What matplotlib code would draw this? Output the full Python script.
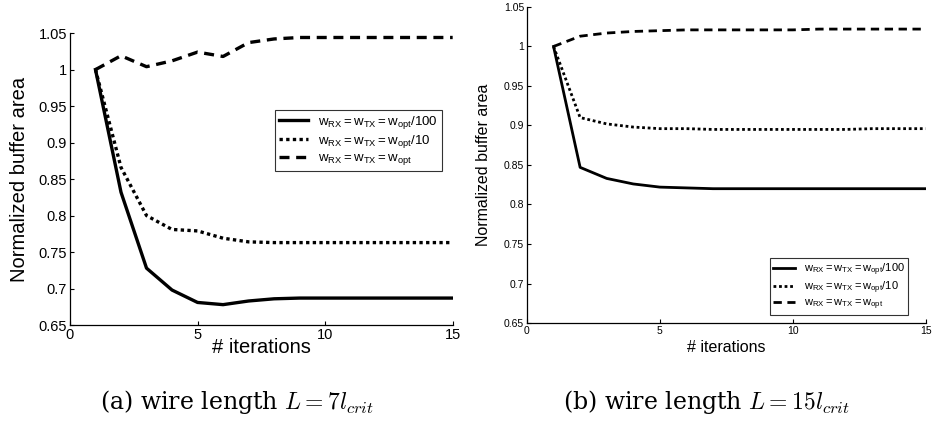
import matplotlib
matplotlib.use("Agg")
import matplotlib.pyplot as plt

plt.rcParams['font.family'] = ['Liberation Sans', 'DejaVu Sans']
plt.rcParams['mathtext.fontset'] = 'cm'

iterations = list(range(1, 16))

# Panel (a): L = 7 l_crit
a_div100 = [1.000, 0.832, 0.728, 0.698, 0.681, 0.678, 0.683, 0.686, 0.687, 0.687, 0.687, 0.687, 0.687, 0.687, 0.687]
a_div10 = [1.000, 0.866, 0.800, 0.781, 0.779, 0.769, 0.764, 0.763, 0.763, 0.763, 0.763, 0.763, 0.763, 0.763, 0.763]
a_opt = [1.000, 1.019, 1.004, 1.012, 1.024, 1.018, 1.037, 1.042, 1.044, 1.044, 1.044, 1.044, 1.044, 1.044, 1.044]

# Panel (b): L = 15 l_crit
b_div100 = [1.000, 0.847, 0.833, 0.826, 0.822, 0.821, 0.820, 0.820, 0.820, 0.820, 0.820, 0.820, 0.820, 0.820, 0.820]
b_div10 = [1.000, 0.910, 0.902, 0.898, 0.896, 0.896, 0.895, 0.895, 0.895, 0.895, 0.895, 0.895, 0.896, 0.896, 0.896]
b_opt = [1.000, 1.013, 1.017, 1.019, 1.020, 1.021, 1.021, 1.021, 1.021, 1.021, 1.022, 1.022, 1.022, 1.022, 1.022]

labels = [r'$\mathregular{w_{RX}{=}w_{TX}{=}w_{opt}/100}$',
          r'$\mathregular{w_{RX}{=}w_{TX}{=}w_{opt}/10}$',
          r'$\mathregular{w_{RX}{=}w_{TX}{=}w_{opt}}$']

captions = [r'(a) wire length $L = 7l_{crit}$', r'(b) wire length $L = 15l_{crit}$']

xticks = [0, 5, 10, 15]
yticks = [0.65, 0.7, 0.75, 0.8, 0.85, 0.9, 0.95, 1.0, 1.05]
yticklabels = ['0.65', '0.7', '0.75', '0.8', '0.85', '0.9', '0.95', '1', '1.05']

fig = plt.figure(figsize=(9.38, 4.30), dpi=100)

def style(ax, tick_fs, label_fs, xpad, ypad):
    ax.set_xlim(0, 15)
    ax.set_ylim(0.65, 1.05)
    ax.set_xticks(xticks)
    ax.set_xticklabels([str(t) for t in xticks], fontsize=tick_fs)
    ax.set_yticks(yticks)
    ax.set_yticklabels(yticklabels, fontsize=tick_fs)
    ax.tick_params(direction='in', length=3, width=0.8, pad=2)
    ax.spines['top'].set_visible(False)
    ax.spines['right'].set_visible(False)
    ax.spines['left'].set_linewidth(0.9)
    ax.spines['bottom'].set_linewidth(0.9)
    ax.set_ylabel('Normalized buffer area', fontsize=label_fs, labelpad=ypad)
    ax.set_xlabel('# iterations', fontsize=label_fs, labelpad=xpad)

# Left panel
ax1 = fig.add_axes([0.0746, 0.244, 0.408, 0.679])
lw1 = 2.4
ax1.plot(iterations, a_div100, color='black', lw=lw1, ls='-', label=labels[0])
ax1.plot(iterations, a_div10, color='black', lw=lw1, ls=(0, (1, 1)), label=labels[1])
ax1.plot(iterations, a_opt, color='black', lw=lw1, ls=(0, (3, 2)), label=labels[2])
style(ax1, 10.5, 14.5, -3, 7)
leg1 = ax1.legend(loc='upper left', bbox_to_anchor=(0.535, 0.736), borderaxespad=0,
                  fontsize=9.5, frameon=True, fancybox=False, edgecolor='black',
                  handlelength=2.2, labelspacing=0.15, borderpad=0.3, handletextpad=0.8)
leg1.get_frame().set_linewidth(0.8)

# Right panel
ax2 = fig.add_axes([0.5618, 0.2488, 0.425, 0.735])
lw2 = 2.0
ax2.plot(iterations, b_div100, color='black', lw=lw2, ls='-', label=labels[0])
ax2.plot(iterations, b_div10, color='black', lw=lw2, ls=(0, (1, 1)), label=labels[1])
ax2.plot(iterations, b_opt, color='black', lw=lw2, ls=(0, (3, 2)), label=labels[2])
style(ax2, 7.5, 11.5, 3, 9)
leg2 = ax2.legend(loc='upper left', bbox_to_anchor=(0.609, 0.206), borderaxespad=0,
                  fontsize=8, frameon=True, fancybox=False, edgecolor='black',
                  handlelength=2.0, labelspacing=0.15, borderpad=0.3, handletextpad=0.8)
leg2.get_frame().set_linewidth(0.8)

# Captions
cap_kw = dict(fontsize=17, family='DejaVu Serif', ha='center', va='center')
fig.text(236.5 / 938, 1 - 402 / 430, captions[0], **cap_kw)
fig.text(706.5 / 938, 1 - 402 / 430, captions[1], **cap_kw)

fig.savefig('out.png', dpi=100)
